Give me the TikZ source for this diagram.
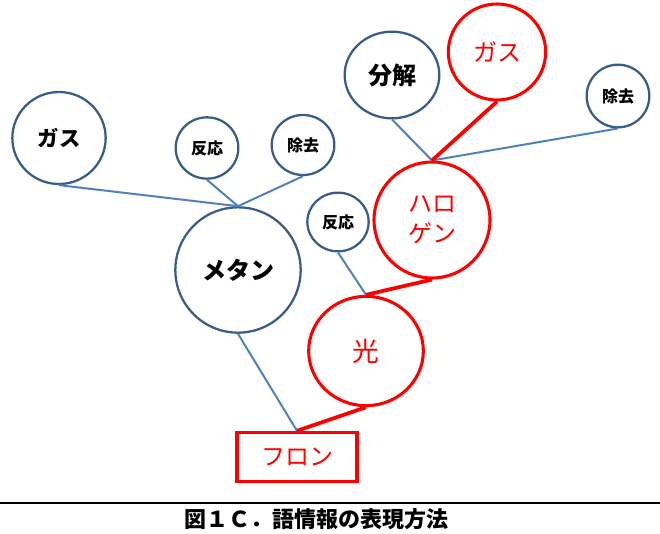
\documentclass[tikz,border=0pt]{standalone}
\usepackage{fontspec}
\usetikzlibrary{shapes.geometric}
\newfontfamily\jpfont{Noto Sans CJK JP}
\definecolor{circblue}{RGB}{56,93,138}
\definecolor{lineblue}{RGB}{79,129,189}
\definecolor{hired}{RGB}{255,0,0}
\tikzset{every picture/.style={line width=0.75pt}}
\tikzset{
	bluecirc/.style={ellipse, draw=circblue, line width=1.7pt, inner sep=0pt, font=\jpfont\bfseries},
	redcirc/.style={ellipse, draw=hired, text=hired, line width=2.3pt, inner sep=0pt, font=\jpfont},
	blueline/.style={draw=lineblue, line width=1.5pt},
	redline/.style={draw=hired, line width=2.8pt},
}

\begin{document}
\begin{tikzpicture}[x=0.75pt,y=0.75pt,yscale=-1,xscale=1]
	\useasboundingbox (0,0) rectangle (660,533);

	%Shape: Circle [gas, left]
	\node [bluecirc, minimum width=70pt, minimum height=69pt, font=\jpfont\bfseries\fontsize{16}{18}\selectfont] (gasL) at (59,138) {ガス};
	%Shape: Circle [hannou, left]
	\node [bluecirc, minimum width=47pt, minimum height=46pt, font=\jpfont\bfseries\fontsize{12}{14}\selectfont] (hannouL) at (207,148) {反応};
	%Shape: Circle [jokyo, left]
	\node [bluecirc, minimum width=47pt, minimum height=45pt, font=\jpfont\bfseries\fontsize{12}{14}\selectfont] (jokyoL) at (303,145) {除去};
	%Shape: Circle [methane]
	\node [bluecirc, minimum width=94pt, minimum height=94pt, font=\jpfont\bfseries\fontsize{18}{20}\selectfont] (methane) at (238,270) {メタン};
	%Shape: Circle [hannou, middle]
	\node [bluecirc, minimum width=46pt, minimum height=44pt, font=\jpfont\bfseries\fontsize{12}{14}\selectfont] (hannouM) at (338,222) {反応};
	%Shape: Circle [bunkai]
	\node [bluecirc, minimum width=71pt, minimum height=65pt, font=\jpfont\bfseries\fontsize{18}{20}\selectfont] (bunkai) at (392,75) {分解};
	%Shape: Circle [jokyo, right]
	\node [bluecirc, minimum width=47pt, minimum height=47pt, font=\jpfont\bfseries\fontsize{12}{14}\selectfont] (jokyoR) at (618,96) {除去};
	%Shape: Circle [gas, red]
	\node [redcirc, minimum width=73pt, minimum height=72pt, font=\jpfont\fontsize{18}{20}\selectfont] (gasR) at (497,52) {ガス};
	%Shape: Circle [halogen]
	\node [redcirc, minimum width=87pt, minimum height=87pt, align=center, font=\jpfont\fontsize{18}{22.5}\selectfont] (halogen) at (432,220) {ハロ\\ゲン};
	%Shape: Circle [hikari]
	\node [redcirc, minimum width=86pt, minimum height=82pt, font=\jpfont\fontsize{20}{22}\selectfont] (hikari) at (366,351) {光};
	%Shape: Rectangle [furon]
	\node [rectangle, draw=hired, text=hired, line width=2.3pt, minimum width=90pt, minimum height=37pt, font=\jpfont\fontsize{18}{20}\selectfont] (furon) at (297,457) {フロン};

	%Straight Lines [blue]
	\draw [blueline] (gasL.south) -- (methane.north);
	\draw [blueline] (hannouL.south) -- (methane.north);
	\draw [blueline] (jokyoL.south) -- (methane.north);
	\draw [blueline] (bunkai.south) -- (halogen.north);
	\draw [blueline] (jokyoR.south) -- (halogen.north);
	\draw [blueline] (hannouM.south) -- (hikari.north);
	\draw [blueline] (methane.south) -- (furon.north);
	%Straight Lines [red]
	\draw [redline] (gasR.south) -- (halogen.north);
	\draw [redline] (halogen.south) -- (hikari.north);
	\draw [redline] (hikari.south) -- (furon.north);

	%Caption
	\draw [line width=0.8pt] (0,503) -- (660,503);
	\node [font=\jpfont\bfseries\fontsize{16.5}{18}\selectfont] (caption) at (316,519) {図１Ｃ．語情報の表現方法};
\end{tikzpicture}
\end{document}
